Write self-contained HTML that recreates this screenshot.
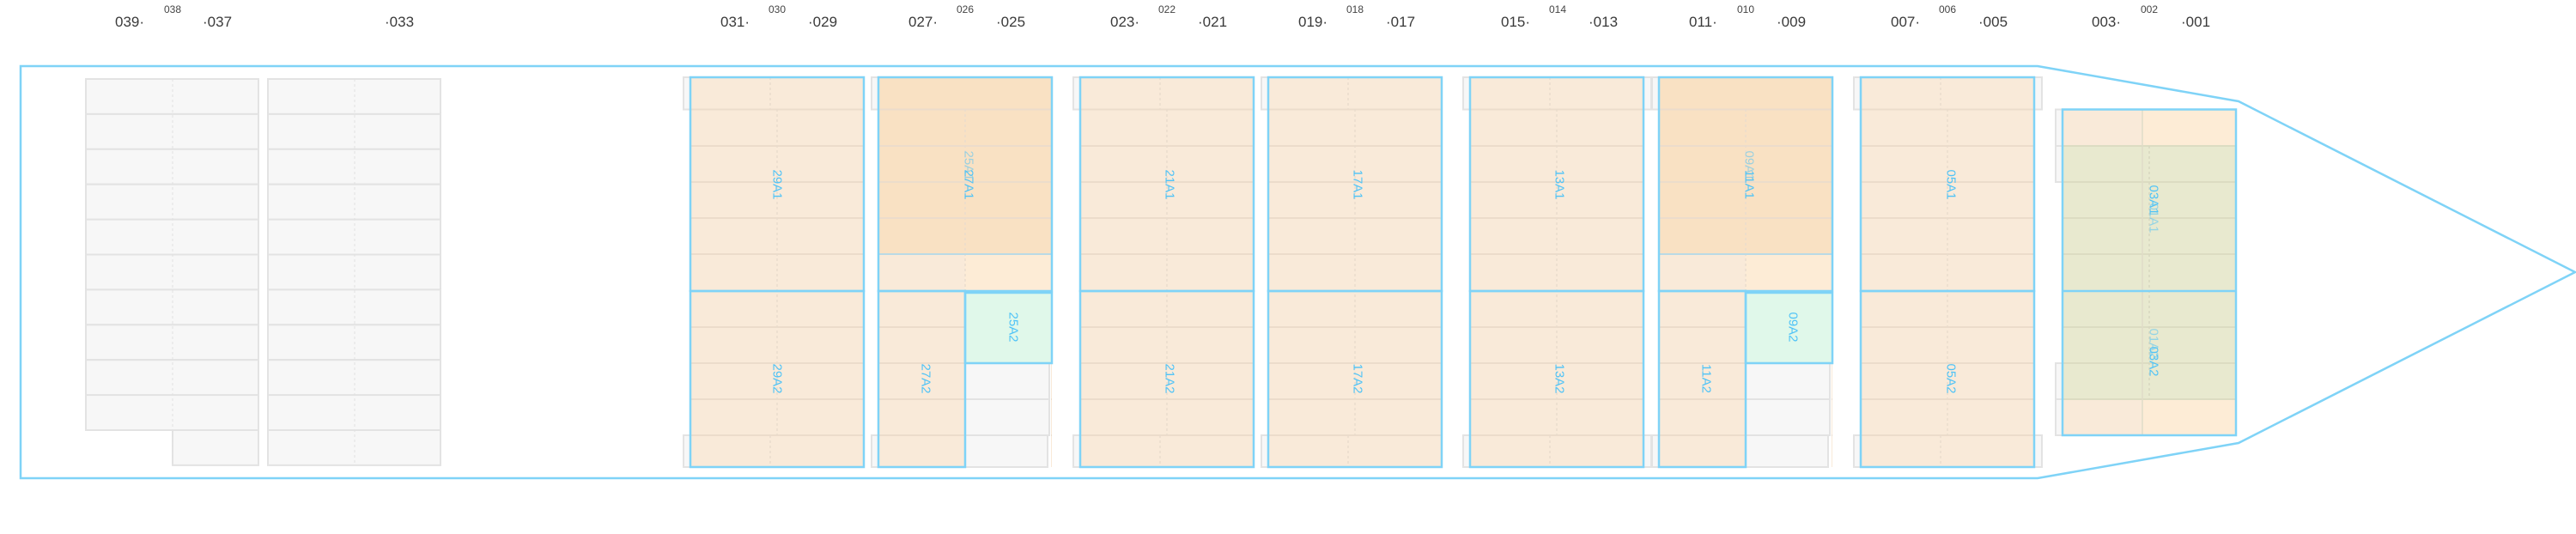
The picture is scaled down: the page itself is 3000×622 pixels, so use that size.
<!DOCTYPE html>
<html><head><meta charset="utf-8">
<style>
html,body{margin:0;padding:0;background:#fff;}
svg{display:block;}
.h{font-family:"Liberation Sans",sans-serif;font-size:17px;fill:#3a3a3a;}
.s{font-family:"Liberation Sans",sans-serif;font-size:12px;fill:#444;}
.v{font-family:"Liberation Sans",sans-serif;font-size:15px;fill:#4fc3f7;}
.vl{font-family:"Liberation Sans",sans-serif;font-size:15px;fill:#4fc3f7;opacity:.55;}
</style></head>
<body>
<svg id="s" width="3000" height="622" viewBox="0 0 3000 622" xmlns="http://www.w3.org/2000/svg">
<g id="shapes"></g>
<polygon points="24,77 2373,77 2607,118 2999,317 2607,516 2373,557 24,557" fill="none" stroke="#7fd3f7" stroke-width="2.5"/>
<g id="labels">
<!-- header -->
<text class="h" x="134" y="31">039·</text><text class="s" x="201" y="15" text-anchor="middle">038</text><text class="h" x="236" y="31">·037</text>
<text class="h" x="448" y="31">·033</text>
<text class="h" x="839" y="31">031·</text><text class="s" x="905" y="15" text-anchor="middle">030</text><text class="h" x="941" y="31">·029</text>
<text class="h" x="1058" y="31">027·</text><text class="s" x="1124" y="15" text-anchor="middle">026</text><text class="h" x="1160" y="31">·025</text>
<text class="h" x="1293" y="31">023·</text><text class="s" x="1359" y="15" text-anchor="middle">022</text><text class="h" x="1395" y="31">·021</text>
<text class="h" x="1512" y="31">019·</text><text class="s" x="1578" y="15" text-anchor="middle">018</text><text class="h" x="1614" y="31">·017</text>
<text class="h" x="1748" y="31">015·</text><text class="s" x="1814" y="15" text-anchor="middle">014</text><text class="h" x="1850" y="31">·013</text>
<text class="h" x="1967" y="31">011·</text><text class="s" x="2033" y="15" text-anchor="middle">010</text><text class="h" x="2069" y="31">·009</text>
<text class="h" x="2202" y="31">007·</text><text class="s" x="2268" y="15" text-anchor="middle">006</text><text class="h" x="2304" y="31">·005</text>
<text class="h" x="2436" y="31">003·</text><text class="s" x="2503" y="15" text-anchor="middle">002</text><text class="h" x="2540" y="31">·001</text>
<!-- vertical labels -->
<text class="v" transform="translate(905,215) rotate(90)" text-anchor="middle" dominant-baseline="central">29A1</text>
<text class="v" transform="translate(905,441) rotate(90)" text-anchor="middle" dominant-baseline="central">29A2</text>
<text class="vl" transform="translate(1128,193) rotate(90)" text-anchor="middle" dominant-baseline="central">25A1</text>
<text class="v" transform="translate(1128,215) rotate(90)" text-anchor="middle" dominant-baseline="central">27A1</text>
<text class="v" transform="translate(1078,441) rotate(90)" text-anchor="middle" dominant-baseline="central">27A2</text>
<text class="v" transform="translate(1180,381) rotate(90)" text-anchor="middle" dominant-baseline="central">25A2</text>
<text class="v" transform="translate(1362,215) rotate(90)" text-anchor="middle" dominant-baseline="central">21A1</text>
<text class="v" transform="translate(1362,441) rotate(90)" text-anchor="middle" dominant-baseline="central">21A2</text>
<text class="v" transform="translate(1581,215) rotate(90)" text-anchor="middle" dominant-baseline="central">17A1</text>
<text class="v" transform="translate(1581,441) rotate(90)" text-anchor="middle" dominant-baseline="central">17A2</text>
<text class="v" transform="translate(1816,215) rotate(90)" text-anchor="middle" dominant-baseline="central">13A1</text>
<text class="v" transform="translate(1816,441) rotate(90)" text-anchor="middle" dominant-baseline="central">13A2</text>
<text class="vl" transform="translate(2037,193) rotate(90)" text-anchor="middle" dominant-baseline="central">09A1</text>
<text class="v" transform="translate(2037,215) rotate(90)" text-anchor="middle" dominant-baseline="central">11A1</text>
<text class="v" transform="translate(1987,441) rotate(90)" text-anchor="middle" dominant-baseline="central">11A2</text>
<text class="v" transform="translate(2088,381) rotate(90)" text-anchor="middle" dominant-baseline="central">09A2</text>
<text class="v" transform="translate(2272,215) rotate(90)" text-anchor="middle" dominant-baseline="central">05A1</text>
<text class="v" transform="translate(2272,441) rotate(90)" text-anchor="middle" dominant-baseline="central">05A2</text>
<text class="v" transform="translate(2508,233) rotate(90)" text-anchor="middle" dominant-baseline="central">03A1</text>
<text class="vl" transform="translate(2508,254) rotate(90)" text-anchor="middle" dominant-baseline="central">01A1</text>
<text class="vl" transform="translate(2508,400) rotate(90)" text-anchor="middle" dominant-baseline="central">01A2</text>
<text class="v" transform="translate(2508,421) rotate(90)" text-anchor="middle" dominant-baseline="central">03A2</text>
</g>
</svg>
<script>
(function(){
var g=document.getElementById('shapes');var NS='http://www.w3.org/2000/svg';
function el(t,a){var e=document.createElementNS(NS,t);for(var k in a)e.setAttribute(k,a[k]);g.appendChild(e);return e;}
function rect(x,y,w,h,f,s,sw,o){return el('rect',{x:x,y:y,width:w,height:h,fill:f||'none',stroke:s||'none','stroke-width':sw||0,opacity:o==null?1:o});}
function line(x1,y1,x2,y2,s,sw,d){var a={x1:x1,y1:y1,x2:x2,y2:y2,stroke:s,'stroke-width':sw};if(d)a['stroke-dasharray']=d;return el('line',a);}
var GF='#f7f7f7',GB='#e3e3e3',OR='#f9ead9',DO='#f9e1c3',CR='#fdecd6',GR='#e0f8ea',OL='#e8e9cf',BL='#7fd3f7',RL='#ecdccb';
// left gray blocks
var ys=[];for(var i=0;i<=11;i++)ys.push(92+i*40.9);
for(i=0;i<10;i++)rect(100,ys[i],201,40.9,GF,GB,2);
rect(201,ys[10],100,40.9,GF,GB,2);
line(201,92,201,542,'#e0e0e0',1,'3,3');
for(i=0;i<11;i++)rect(312,ys[i],201,40.9,GF,GB,2);
line(413,92,413,542,'#e0e0e0',1,'3,3');
var R=[90,127.5,170,212,254,296,339,381,423,465,507,544];
function base(L,brL,brR){
  if(brL){rect(L-8,90,201,37.5,GF,GB,2);rect(L-8,507,201,37,GF,GB,2);}
  if(brR){rect(L+10,90,201,37.5,GF,GB,2);rect(L+10,507,201,37,GF,GB,2);}
}
function plain(L,brL,brR){
  base(L,brL,brR);
  rect(L,90,202,454,OR);
  for(var i=1;i<R.length-1;i++)line(L,R[i],L+202,R[i],RL,2);
  line(L+101,127,L+101,507,'#eadccd',1.5,'3,3');
  line(L+93,90,L+93,127,'#eadccd',1.5,'3,3');line(L+93,507,L+93,544,'#eadccd',1.5,'3,3');
  rect(L,90,202,249,'none',BL,2.5);rect(L,339,202,205,'none',BL,2.5);
}
function split(L,brL){
  base(L,brL,false);
  rect(L,90,202,454,OR);
  rect(L,90,202,206,DO);
  rect(L+101,296,101,43,CR);
  for(var i=1;i<R.length-1;i++)line(L,R[i],L+202,R[i],RL,2);
  line(L+101,127,L+101,339,'#eadccd',1.5,'3,3');
  rect(L+101,423,100,121,'#fff');
  rect(L+101,423,98,42,GF,GB,2);rect(L+101,465,98,42,GF,GB,2);rect(L+101,507,96,37,GF,GB,2);
  rect(L+101,341,101,82,GR,BL,2.5);
  line(L,296,L+202,296,'#a9d9ee',1.5);
  rect(L,90,202,249,'none',BL,2.5);rect(L,339,101,205,'none',BL,2.5);
}
plain(804,true,false);
split(1023,true);
plain(1258,true,false);
plain(1477,true,false);
plain(1712,true,true);
split(1932,true);
plain(2167,true,true);
// bay 03/01
var L=2402;
rect(L-8,127.5,100,42.5,GF,GB,2);rect(L-8,170,100,42,GF,GB,2);rect(L-8,423,100,42,GF,GB,2);rect(L-8,465,100,42,GF,GB,2);
rect(L,127.5,93,42.5,OR);rect(L+93,127.5,109,42.5,CR);
rect(L,465,93,42,OR);rect(L+93,465,109,42,CR);
rect(L,170,202,295,OL);
for(i=2;i<R.length-2;i++)line(L,R[i],L+202,R[i],'#dcdcc2',2);
line(L+93,127,L+93,507,'#e0dcc8',1.5);
line(L+101,170,L+101,465,'#d8d8c0',1.5,'3,3');
rect(L,127.5,202,379.5,'none',BL,2.5);
line(L,339,L+202,339,BL,2.5);
})();
</script>
</body></html>
